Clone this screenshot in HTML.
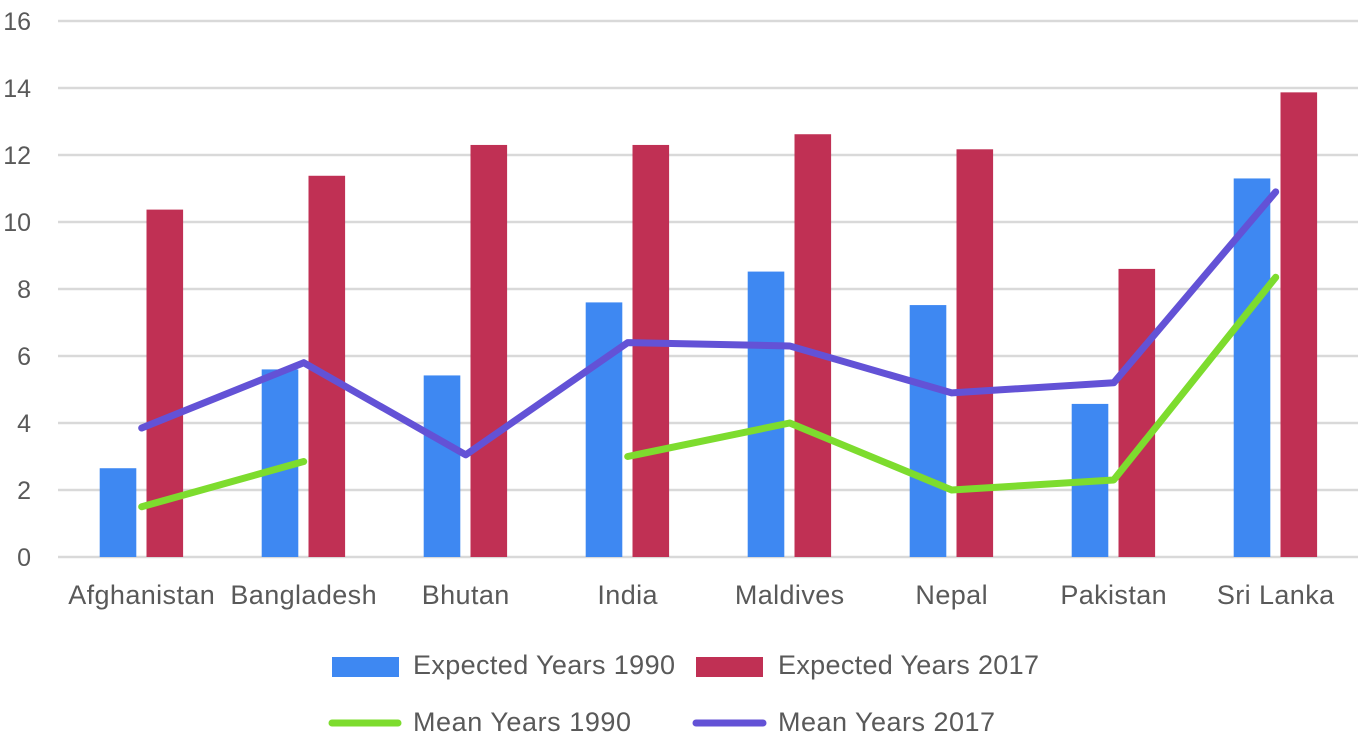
<!DOCTYPE html>
<html lang="en">
<head>
<meta charset="utf-8">
<title>Expected and Mean Years of Schooling</title>
<style>
html,body{margin:0;padding:0;background:#fff;width:1358px;height:742px;overflow:hidden}
svg{display:block}
text{font-family:"Liberation Sans",sans-serif;font-size:25px;fill:#595959}
text.big{font-size:27px}
</style>
</head>
<body>
<svg id="chart" width="1358" height="742" viewBox="0 0 1358 742" xmlns="http://www.w3.org/2000/svg"></svg>
<script>
const categories = ["Afghanistan","Bangladesh","Bhutan","India","Maldives","Nepal","Pakistan","Sri Lanka"];
const expected1990 = [2.65,5.6,5.42,7.6,8.52,7.52,4.57,11.3];
const expected2017 = [10.37,11.38,12.3,12.3,12.62,12.17,8.6,13.87];
const mean1990 = [1.5,2.85,null,3,4,2,2.3,8.35];
const mean2017 = [3.85,5.8,3.05,6.4,6.3,4.9,5.2,10.9];
const yTicks = [0,2,4,6,8,10,12,14,16];

const svg = document.getElementById('chart');
const NS = 'http://www.w3.org/2000/svg';
const y = v => 557 - v * 33.5;
const x = i => 141.7 + i * 162;
function add(tag, attrs, txt){
  const e = document.createElementNS(NS, tag);
  for (const k in attrs) e.setAttribute(k, attrs[k]);
  if (txt !== undefined) e.textContent = txt;
  svg.appendChild(e);
  return e;
}
yTicks.forEach(t => {
  const g = add('line',{x1:58,x2:1358,y1:y(t),y2:y(t),stroke:'#d9d9d9','stroke-width':2.5});
  
  
  const l = add('text',{x:31,y:y(t)+9,'text-anchor':'end'},t);
  
  
});
categories.forEach((c,i) => {
  const b1 = add('rect',{x:x(i)-42,y:y(expected1990[i]),width:36.6,height:557-y(expected1990[i]),fill:'#3e88f2'});
  
  
  const b2 = add('rect',{x:x(i)+4.8,y:y(expected2017[i]),width:36.6,height:557-y(expected2017[i]),fill:'#c03054'});
  
  
  const l = add('text',{x:x(i),y:604,'text-anchor':'middle','letter-spacing':'0.4','class':'big'},c);
  
  
});
function linePaths(vals){
  const segs = [];
  let cur = '';
  vals.forEach((v,i) => {
    if (v === null) { if (cur) segs.push(cur); cur = ''; return; }
    cur += (cur ? ' L' : 'M') + x(i) + ' ' + y(v);
  });
  if (cur) segs.push(cur);
  return segs;
}
linePaths(mean1990).forEach((d,k) => {
  const p = add('path',{d:d,fill:'none',stroke:'#7ddc2e','stroke-width':7,'stroke-linecap':'round','stroke-linejoin':'round'});
  
  
});
linePaths(mean2017).forEach((d,k) => {
  const p = add('path',{d:d,fill:'none',stroke:'#6352d6','stroke-width':7,'stroke-linecap':'round','stroke-linejoin':'round'});
  
  
});
const s1 = add('rect',{x:332,y:657,width:67,height:20,fill:'#3e88f2'});


const t1 = add('text',{x:413,y:674,textLength:262,lengthAdjust:'spacing','class':'big'},'Expected Years 1990');


const s2 = add('rect',{x:696,y:657,width:67,height:20,fill:'#c03054'});


const t2 = add('text',{x:778,y:674,textLength:261,lengthAdjust:'spacing','class':'big'},'Expected Years 2017');


const s3 = add('line',{x1:332,x2:398,y1:723,y2:723,stroke:'#7ddc2e','stroke-width':7,'stroke-linecap':'round'});


const t3 = add('text',{x:413,y:731,textLength:218,lengthAdjust:'spacing','class':'big'},'Mean Years 1990');


const s4 = add('line',{x1:696,x2:763,y1:723,y2:723,stroke:'#6352d6','stroke-width':7,'stroke-linecap':'round'});


const t4 = add('text',{x:778,y:731,textLength:217,lengthAdjust:'spacing','class':'big'},'Mean Years 2017');


</script>
</body>
</html>
